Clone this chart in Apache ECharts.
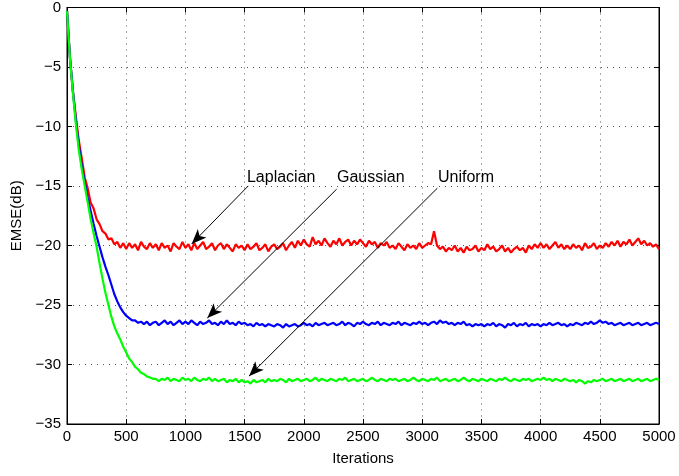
<!DOCTYPE html>
<html>
<head>
<meta charset="utf-8">
<script src="https://cdn.jsdelivr.net/npm/echarts@6/dist/echarts.min.js"></script>
<style>
html,body{margin:0;padding:0;background:#fff;}
#chart{width:679px;height:476px;}
</style>
</head>
<body>
<div id="chart"></div>
<script>
// Sampling grid: one sample every 25 iterations, 0..5000
const STEP = 25;
const xTicks = [0, 500, 1000, 1500, 2000, 2500, 3000, 3500, 4000, 4500, 5000];
const yTicks = [0, -5, -10, -15, -20, -25, -30, -35];
const seriesNames = ['Laplacian', 'Gaussian', 'Uniform'];

const laplacian = [
-0.3,-4.2,-7.1,-9.2,-11.2,-12.7,-14.3,-15.2,-16.4,-16.9,
-17.8,-18.2,-18.8,-19.0,-19.5,-19.4,-19.9,-19.7,-20.2,-19.8,
-20.3,-19.8,-20.2,-19.9,-20.4,-19.7,-20.1,-20.3,-19.8,-20.2,
-19.9,-20.4,-19.8,-20.2,-20.0,-20.5,-19.8,-20.1,-20.3,-19.7,
-20.2,-19.9,-20.4,-19.8,-20.3,-20.0,-19.7,-20.3,-20.1,-19.8,
-20.4,-20.0,-19.8,-20.3,-19.9,-20.2,-20.5,-19.9,-20.2,-20.0,
-20.4,-19.9,-20.3,-20.1,-19.8,-20.4,-20.2,-19.9,-20.5,-20.1,
-19.9,-20.3,-20.1,-19.8,-20.4,-20.0,-19.7,-20.2,-19.6,-20.0,
-19.5,-19.9,-20.1,-19.3,-19.9,-19.6,-20.0,-19.4,-19.8,-20.1,
-19.6,-19.9,-19.4,-20.0,-19.7,-19.5,-20.0,-19.6,-19.9,-19.5,
-19.8,-20.1,-19.6,-19.9,-19.7,-20.2,-19.8,-20.0,-19.7,-20.2,
-20.0,-20.3,-19.8,-20.1,-20.4,-19.9,-20.2,-20.0,-20.3,-19.8,
-20.2,-20.0,-19.8,-19.9,-18.8,-20.0,-20.3,-20.1,-20.5,-20.2,
-20.4,-20.0,-20.5,-20.2,-20.6,-20.1,-20.4,-20.3,-20.0,-20.5,
-20.2,-20.4,-19.9,-20.3,-20.1,-20.5,-20.3,-20.0,-20.5,-20.2,
-20.6,-20.3,-20.1,-20.4,-20.2,-20.6,-20.0,-20.3,-19.9,-20.2,
-19.8,-20.2,-19.9,-20.3,-20.0,-19.7,-20.2,-19.9,-20.3,-20.0,
-20.3,-19.9,-20.2,-20.0,-20.4,-19.8,-20.2,-20.1,-19.8,-20.3,
-20.0,-20.2,-19.8,-20.1,-19.7,-20.0,-19.6,-20.1,-19.7,-19.9,
-19.5,-20.0,-19.7,-19.4,-19.9,-19.6,-20.0,-19.8,-20.1,-19.9,
-20.3
];

const gaussian = [
-0.3,-4.2,-7.0,-9.5,-11.6,-13.3,-14.7,-16.0,-17.1,-18.2,
-19.2,-20.1,-21.0,-21.8,-22.5,-23.3,-24.1,-24.7,-25.2,-25.6,
-25.9,-26.1,-26.3,-26.3,-26.5,-26.4,-26.6,-26.4,-26.7,-26.5,
-26.4,-26.7,-26.5,-26.3,-26.6,-26.4,-26.7,-26.5,-26.3,-26.6,
-26.4,-26.6,-26.3,-26.5,-26.7,-26.4,-26.6,-26.5,-26.3,-26.6,
-26.5,-26.7,-26.4,-26.6,-26.3,-26.6,-26.5,-26.7,-26.4,-26.6,
-26.5,-26.7,-26.6,-26.8,-26.5,-26.7,-26.6,-26.8,-26.6,-26.7,
-26.8,-26.6,-26.7,-26.9,-26.6,-26.8,-26.7,-26.6,-26.8,-26.7,
-26.5,-26.7,-26.6,-26.8,-26.5,-26.7,-26.6,-26.5,-26.7,-26.6,
-26.5,-26.7,-26.6,-26.4,-26.7,-26.5,-26.6,-26.8,-26.5,-26.6,
-26.4,-26.6,-26.7,-26.5,-26.6,-26.4,-26.7,-26.5,-26.6,-26.7,
-26.5,-26.6,-26.4,-26.7,-26.5,-26.6,-26.7,-26.5,-26.6,-26.4,
-26.6,-26.5,-26.7,-26.5,-26.4,-26.6,-26.3,-26.5,-26.4,-26.6,
-26.5,-26.7,-26.5,-26.6,-26.4,-26.7,-26.6,-26.8,-26.6,-26.7,
-26.6,-26.8,-26.6,-26.7,-26.5,-26.8,-26.6,-26.7,-26.9,-26.6,
-26.7,-26.5,-26.8,-26.6,-26.7,-26.5,-26.8,-26.6,-26.7,-26.6,
-26.8,-26.6,-26.7,-26.5,-26.7,-26.6,-26.5,-26.7,-26.6,-26.8,
-26.6,-26.7,-26.5,-26.6,-26.7,-26.5,-26.6,-26.4,-26.6,-26.5,
-26.3,-26.5,-26.4,-26.6,-26.5,-26.7,-26.6,-26.5,-26.7,-26.6,
-26.5,-26.7,-26.6,-26.5,-26.7,-26.6,-26.5,-26.7,-26.6,-26.5,
-26.6
];

const uniform = [
-0.3,-4.3,-7.2,-9.8,-12.0,-13.6,-15.0,-16.4,-17.8,-19.0,
-20.1,-21.5,-22.8,-24.0,-25.0,-26.0,-26.8,-27.4,-27.9,-28.5,
-29.0,-29.5,-29.8,-30.2,-30.4,-30.7,-30.8,-31.0,-31.1,-31.2,
-31.2,-31.4,-31.2,-31.3,-31.1,-31.4,-31.2,-31.3,-31.4,-31.1,
-31.3,-31.2,-31.4,-31.1,-31.3,-31.4,-31.2,-31.3,-31.1,-31.4,
-31.2,-31.4,-31.3,-31.2,-31.5,-31.3,-31.4,-31.2,-31.5,-31.3,
-31.5,-31.4,-31.6,-31.3,-31.5,-31.4,-31.3,-31.5,-31.2,-31.4,
-31.3,-31.4,-31.2,-31.3,-31.5,-31.2,-31.4,-31.3,-31.2,-31.4,
-31.3,-31.2,-31.4,-31.3,-31.1,-31.4,-31.2,-31.3,-31.4,-31.2,
-31.3,-31.4,-31.2,-31.3,-31.1,-31.4,-31.3,-31.2,-31.4,-31.3,
-31.2,-31.4,-31.3,-31.1,-31.3,-31.4,-31.2,-31.3,-31.4,-31.2,
-31.3,-31.2,-31.4,-31.3,-31.2,-31.4,-31.3,-31.1,-31.3,-31.4,
-31.2,-31.3,-31.4,-31.2,-31.3,-31.1,-31.4,-31.3,-31.2,-31.4,
-31.3,-31.2,-31.4,-31.3,-31.1,-31.3,-31.4,-31.2,-31.3,-31.4,
-31.2,-31.3,-31.4,-31.2,-31.3,-31.4,-31.2,-31.3,-31.1,-31.3,
-31.4,-31.2,-31.3,-31.4,-31.2,-31.3,-31.2,-31.4,-31.3,-31.2,
-31.3,-31.1,-31.3,-31.2,-31.4,-31.2,-31.3,-31.4,-31.2,-31.3,
-31.4,-31.3,-31.5,-31.3,-31.4,-31.6,-31.4,-31.5,-31.3,-31.4,
-31.3,-31.2,-31.4,-31.3,-31.2,-31.4,-31.3,-31.2,-31.4,-31.3,
-31.2,-31.4,-31.3,-31.2,-31.4,-31.3,-31.2,-31.4,-31.3,-31.2,
-31.3
];

// Annotation: text anchor [iteration, dB] and arrow [from, to]
const annotTextPos = [[1520, -14.4], [2280, -14.4], [3133, -14.4]];
const annotArrowFrom = [[1531, -14.99], [2278, -15.26], [3128, -15.18]];
const annotArrowTo = [[1053, -19.87], [1185, -26.1], [1537, -30.98]];

const colors = ['#ff0000', '#0000ff', '#00ff00'];
const FONT = '"Liberation Sans", Arial, Helvetica, sans-serif';
const minus = v => String(v).replace('-', '\u2212');

function toPairs(vals) { return vals.map((v, i) => [i * STEP, v]); }

const chart = echarts.init(document.getElementById('chart'), null, {renderer: 'canvas'});

const allVals = [laplacian, gaussian, uniform];
const series = allVals.map((vals, k) => ({
  name: seriesNames[k],
  type: 'line',
  data: toPairs(vals),
  showSymbol: false,
  symbol: 'none',
  lineStyle: {color: colors[k], width: 2.2},
  itemStyle: {color: colors[k]},
  animation: false,
  z: 2 + k,
  silent: true
}));

series.push({
  type: 'line', data: [], silent: true, animation: false,
  markLine: {
    silent: true, animation: false,
    symbol: ['none', 'arrow'], symbolSize: [9, 15],
    label: {show: false},
    lineStyle: {color: '#000', width: 1, type: 'solid'},
    data: annotArrowFrom.map((f, i) => [{coord: f}, {coord: annotArrowTo[i]}])
  },
  z: 10
});

const axisCommon = {
  type: 'value',
  axisLine: {show: true, onZero: false, lineStyle: {color: '#000', width: 1}},
  axisTick: {show: true, inside: true, length: 5, lineStyle: {color: '#000'}},
};

chart.setOption({
  animation: false,
  backgroundColor: '#fff',
  grid: {left: 67, right: 20, top: 6, bottom: 52, containLabel: false,
         show: true, borderColor: '#000', borderWidth: 1},
  xAxis: [
    Object.assign({}, axisCommon, {
      min: 0, max: 5000, interval: 500, position: 'bottom',
      name: 'Iterations', nameLocation: 'middle', nameGap: 27,
      nameTextStyle: {color: '#000', fontFamily: FONT, fontSize: 15},
      axisLabel: {color: '#000', fontFamily: FONT, fontSize: 15, margin: 5, formatter: v => minus(v)},
      splitLine: {show: true, lineStyle: {color: '#555', width: 1, type: [1, 5]}}
    }),
    Object.assign({}, axisCommon, {
      min: 0, max: 5000, interval: 500, position: 'top',
      axisLabel: {show: false}, splitLine: {show: false}
    })
  ],
  yAxis: [
    Object.assign({}, axisCommon, {
      min: -35, max: 0, interval: 5, position: 'left',
      name: 'EMSE(dB)', nameLocation: 'middle', nameGap: 33, nameRotate: 90,
      nameTextStyle: {color: '#000', fontFamily: FONT, fontSize: 15},
      axisLabel: {color: '#000', fontFamily: FONT, fontSize: 15, margin: 6, formatter: v => minus(v)},
      splitLine: {show: true, lineStyle: {color: '#555', width: 1, type: [1, 5]}}
    }),
    Object.assign({}, axisCommon, {
      min: -35, max: 0, interval: 5, position: 'right',
      axisLabel: {show: false}, splitLine: {show: false}
    })
  ],
  series: series
});

const graphics = annotTextPos.map((p, i) => {
  const px = chart.convertToPixel({xAxisIndex: 0, yAxisIndex: 0}, p);
  return {
    type: 'text', left: px[0], top: px[1] - 9, z: 100,
    style: {text: seriesNames[i], fill: '#000', font: '16px ' + FONT}
  };
});
chart.setOption({graphic: graphics});
</script>
</body>
</html>
